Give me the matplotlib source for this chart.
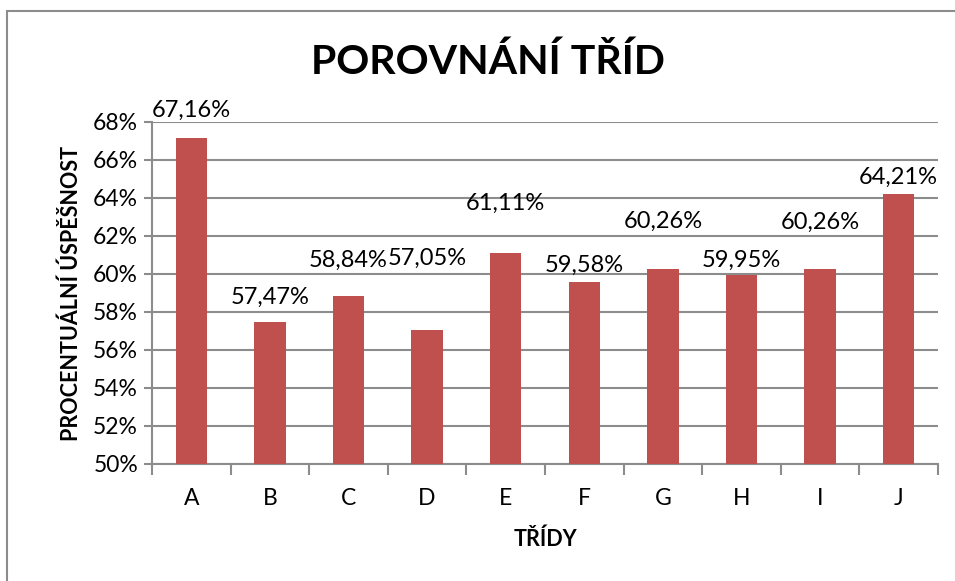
import matplotlib.pyplot as plt
from matplotlib.patches import Rectangle
from matplotlib.ticker import FixedLocator

plt.rcParams['font.family'] = ['Lato', 'DejaVu Sans']

classes = ['A', 'B', 'C', 'D', 'E', 'F', 'G', 'H', 'I', 'J']
success = [67.16, 57.47, 58.84, 57.05, 61.11, 59.58, 60.26, 59.95, 60.26, 64.21]
# label heights (manually placed in the original)
label_y = [68.63, 58.79, 60.74, 60.84, 63.74, 60.47, 62.79, 60.74, 62.74, 65.11]
yticks = [50, 52, 54, 56, 58, 60, 62, 64, 66, 68]

grey = '#8c8c8c'
fig = plt.figure(figsize=(9.55, 5.81), dpi=100)
fig.patches.append(Rectangle((7 / 955, -0.1), 1.2, (581 - 11) / 581 + 0.1,
                             transform=fig.transFigure, fill=False,
                             edgecolor=grey, linewidth=1.5))

ax = fig.add_axes([152 / 955, 117 / 581, 786 / 955, 342 / 581])
x = list(range(len(classes)))
ax.bar(x, [v - 50 for v in success], bottom=50, width=0.4, color='#C0504D', zorder=3)
for xi, v, ly in zip(x, success, label_y):
    ax.text(xi, ly, f'{v:.2f}%'.replace('.', ','), ha='center', va='center', fontsize=17)

ax.set_xlim(-0.5, len(classes) - 0.5)
ax.set_ylim(50, 68)
ax.set_yticks(yticks)
ax.set_yticklabels([f'{t}%' for t in yticks], fontsize=16.5)
ax.set_xticks(x)
ax.set_xticklabels(classes, fontsize=16.5)
ax.xaxis.set_minor_locator(FixedLocator([i - 0.5 for i in range(len(classes) + 1)]))
ax.tick_params(axis='x', which='major', length=0, pad=17)
ax.tick_params(axis='x', which='minor', length=8, color=grey, width=1.5)
ax.tick_params(axis='y', length=6, color=grey, width=1.5, pad=4)
ax.grid(axis='y', color=grey, linewidth=1.5, zorder=0)
for s in ['top', 'right']:
    ax.spines[s].set_visible(False)
for s in ['left', 'bottom']:
    ax.spines[s].set_color(grey)
    ax.spines[s].set_linewidth(1.5)

ax.set_xlabel('TŘÍDY', fontsize=15.5, fontweight='bold', labelpad=14)
ax.set_ylabel('PROCENTUÁLNÍ ÚSPĚŠNOST', fontsize=15.5, fontweight='bold', labelpad=8)
fig.text(488 / 955, 1 - 62 / 581, 'POROVNÁNÍ TŘÍD', ha='center', va='center',
         fontsize=29.5, fontweight='bold')

fig.savefig('out.png', dpi=100)
